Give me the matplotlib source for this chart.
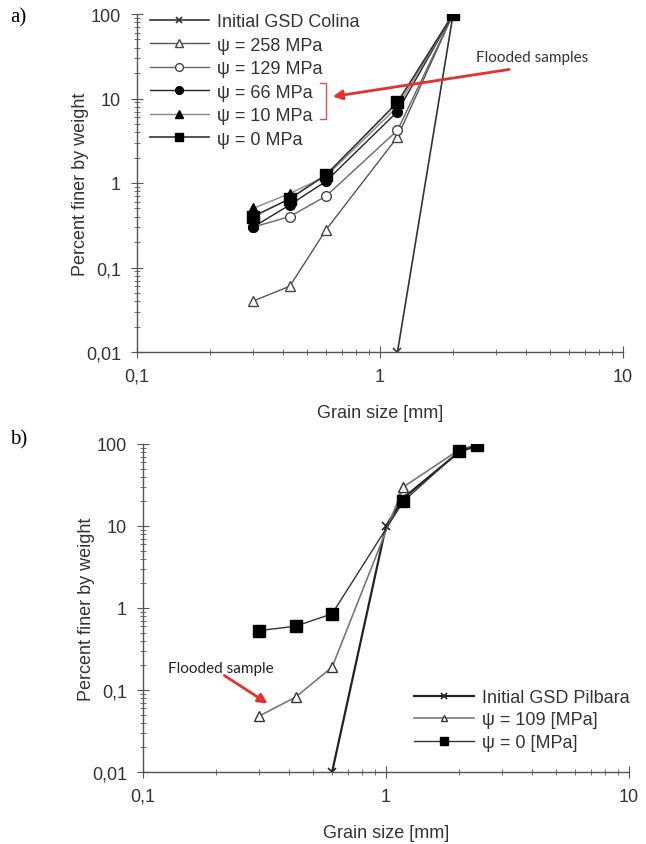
import matplotlib
matplotlib.use("Agg")
import matplotlib.pyplot as plt
from matplotlib.ticker import LogLocator, FixedLocator, NullFormatter

plt.rcParams['font.family'] = ['Liberation Sans', 'DejaVu Sans']

# panel a) - Colina
x_init_a = [1.18, 2.0]
y_init_a = [0.01, 100]
x_a = [0.3, 0.425, 0.6, 1.18, 2.0]
y_258 = [0.04, 0.06, 0.28, 3.5, 100]
y_129 = [0.3, 0.4, 0.7, 4.2, 100]
y_66 = [0.3, 0.55, 1.05, 7.0, 100]
y_10 = [0.5, 0.75, 1.2, 8.0, 100]
y_0 = [0.4, 0.65, 1.25, 9.0, 100]

# panel b) - Pilbara
x_init_b = [0.6, 1.0, 1.18, 2.0, 2.36]
y_init_b = [0.01, 10, 22, 80, 95]
x_b = [0.3, 0.425, 0.6, 1.18, 2.0, 2.36]
y_109 = [0.048, 0.082, 0.19, 30, 85, 97]
y_0b = [0.53, 0.6, 0.85, 20, 82, 97]

y_ticks = [0.01, 0.1, 1, 10, 100]
y_tick_labels = ["0,01", "0,1", "1", "10", "100"]
x_ticks = [0.1, 1, 10]
x_tick_labels = ["0,1", "1", "10"]

W, H = 646, 845
fig = plt.figure(figsize=(W / 100, H / 100), dpi=100)


def px(x, y):
    return (x / W, 1 - y / H)


def style_axes(ax):
    ax.set_xscale('log')
    ax.set_yscale('log')
    ax.set_xlim(0.1, 10)
    ax.set_ylim(0.01, 100)
    ax.spines['top'].set_visible(False)
    ax.spines['right'].set_visible(False)
    for s in ['left', 'bottom']:
        ax.spines[s].set_color('#555555')
        ax.spines[s].set_linewidth(1.0)
    ax.xaxis.set_major_locator(FixedLocator(x_ticks))
    ax.set_xticklabels(x_tick_labels)
    ax.yaxis.set_major_locator(FixedLocator(y_ticks))
    ax.set_yticklabels(y_tick_labels)
    ax.xaxis.set_minor_locator(LogLocator(base=10, subs=range(2, 10)))
    ax.yaxis.set_minor_locator(LogLocator(base=10, subs=range(2, 10)))
    ax.xaxis.set_minor_formatter(NullFormatter())
    ax.yaxis.set_minor_formatter(NullFormatter())
    ax.tick_params(which='major', direction='inout', length=9, color='#555555',
                   labelsize=13, labelcolor='#333333', pad=7)
    ax.tick_params(which='minor', direction='inout', length=5, color='#555555')
    ax.set_xlabel("Grain size [mm]", fontsize=13, color='#333333', labelpad=14)
    ax.set_ylabel("Percent finer by weight", fontsize=13, color='#333333', labelpad=-2)


# ---- a)
ax1 = fig.add_axes([137 / W, 1 - 353 / H, (623 - 137) / W, (353 - 15) / H])
style_axes(ax1)
ms = 7
ax1.plot(x_init_a, y_init_a, color='#333333', lw=1.2, marker='x', ms=6, mew=1.2,
         label="Initial GSD Colina")
ax1.plot(x_a, y_258, color='#555555', lw=1.0, marker='^', ms=ms, mfc='white', mec='#444444',
         label="ψ = 258 MPa")
ax1.plot(x_a, y_129, color='#666666', lw=1.0, marker='o', ms=ms, mfc='white', mec='#444444',
         label="ψ = 129 MPa")
ax1.plot(x_a, y_66, color='#222222', lw=1.0, marker='o', ms=ms, mfc='black', mec='black',
         label="ψ = 66 MPa")
ax1.plot(x_a, y_10, color='#888888', lw=1.0, marker='^', ms=ms, mfc='black', mec='black',
         label="ψ = 10 MPa")
ax1.plot(x_a, y_0, color='#333333', lw=1.2, marker='s', ms=ms + 1, mfc='black', mec='black',
         label="ψ = 0 MPa")
leg1 = ax1.legend(loc='upper left', bbox_to_anchor=(0.0, 1.04), frameon=False, fontsize=13,
                  handlelength=3.3, labelspacing=0.36, handletextpad=0.45, borderaxespad=0.3,
                  markerscale=0.8)
for t in leg1.get_texts():
    t.set_color('#333333')

# red bracket + arrow for flooded samples
fig.add_artist(plt.Line2D([px(320, 0)[0], px(326, 0)[0], px(326, 0)[0], px(320, 0)[0]],
                          [px(0, 84)[1], px(0, 84)[1], px(0, 120)[1], px(0, 120)[1]],
                          color='#e05050', lw=1.0))
fig.text(*px(476, 58), "Flooded samples", fontsize=11, family='Lato', color='#333333', va='center')
ax1.annotate("", xy=px(330, 98), xycoords='figure fraction',
             xytext=px(512, 70), textcoords='figure fraction',
             arrowprops=dict(arrowstyle='-|>', color='#e53030', lw=2, mutation_scale=14))

# ---- b)
ax2 = fig.add_axes([143 / W, 1 - 773 / H, (629 - 143) / W, (773 - 445) / H])
style_axes(ax2)
ax2.plot(x_init_b, y_init_b, color='#222222', lw=1.6, marker='x', ms=6, mew=1.2,
         label="Initial GSD Pilbara")
ax2.plot(x_b, y_109, color='#777777', lw=1.2, marker='^', ms=ms, mfc='white', mec='#333333',
         label="ψ = 109 [MPa]")
ax2.plot(x_b, y_0b, color='#333333', lw=1.0, marker='s', ms=ms + 2, mfc='black', mec='black',
         label="ψ = 0 [MPa]")
leg2 = ax2.legend(loc='lower right', bbox_to_anchor=(1.035, 0.015), frameon=False, fontsize=13,
                  handlelength=3.3, labelspacing=0.3, handletextpad=0.45, markerscale=0.7)
for t in leg2.get_texts():
    t.set_color('#333333')

fig.text(*px(168, 669), "Flooded sample", fontsize=11, family='Lato', color='#222222', va='center')
ax2.annotate("", xy=px(270, 706), xycoords='figure fraction',
             xytext=px(222, 675), textcoords='figure fraction',
             arrowprops=dict(arrowstyle='-|>', color='#e53030', lw=2, mutation_scale=14))

# panel letters
fig.text(*px(10, 18), "a)", fontsize=15, family='Liberation Serif', va='center')
fig.text(*px(10, 440), "b)", fontsize=15, family='Liberation Serif', va='center')

fig.savefig("out.png", dpi=100)
